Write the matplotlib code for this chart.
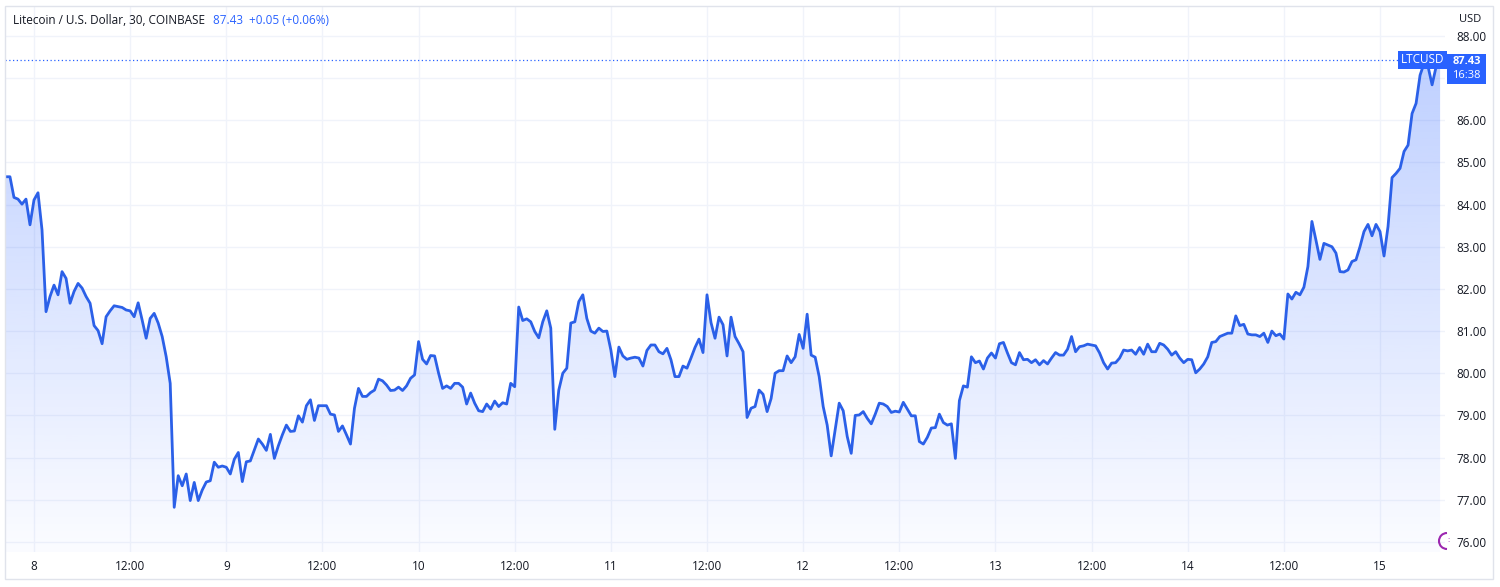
import numpy as np
import matplotlib
matplotlib.use('Agg')
import matplotlib.pyplot as plt
from matplotlib.patches import Rectangle, Arc
from matplotlib.colors import to_rgb
from matplotlib.transforms import blended_transform_factory

plt.rcParams['font.family'] = ['Open Sans', 'DejaVu Sans']

# chart data (30 minute closes, LTC/USD on Coinbase)
title = 'Litecoin / U.S. Dollar, 30, COINBASE'
quote = '87.43  +0.05 (+0.06%)'
symbol = 'LTCUSD'
last_price = 87.43
countdown = '16:38'
start_bar = -7  # first bar, in half hours from midnight of the 8th

prices = [
    # 8th (from 20:30 the day before)
    84.66, 84.66, 84.17, 84.13, 84.01, 84.13, 83.52, 84.11, 84.28, 83.40,
    81.46, 81.82, 82.09, 81.86, 82.41, 82.25, 81.66, 81.94, 82.13, 82.02,
    81.82, 81.66, 81.13, 81.01, 80.70, 81.34, 81.48, 81.60, 81.58, 81.56,
    81.50, 81.48, 81.34, 81.67, 81.26, 80.83, 81.30, 81.42, 81.19, 80.87,
    80.39, 79.76, 76.82, 77.57, 77.33, 77.61, 76.98, 77.41, 76.98, 77.23,
    77.42, 77.45, 77.89, 77.77, 77.80,
    # 9th
    77.77, 77.61, 77.96, 78.12, 77.43, 77.90, 77.92, 78.18, 78.44, 78.32,
    78.17, 78.55, 77.98, 78.28, 78.54, 78.77, 78.62, 78.63, 78.99, 78.84,
    79.23, 79.37, 78.88, 79.23, 79.23, 79.23, 79.03, 79.01, 78.62, 78.75,
    78.54, 78.32, 79.17, 79.64, 79.45, 79.45, 79.54, 79.60, 79.86, 79.82,
    79.72, 79.59, 79.60, 79.67, 79.59, 79.70, 79.88, 79.96,
    # 10th
    80.75, 80.33, 80.22, 80.42, 80.41, 80.00, 79.64, 79.70, 79.64, 79.76,
    79.76, 79.67, 79.27, 79.53, 79.29, 79.11, 79.09, 79.27, 79.15, 79.34,
    79.21, 79.30, 79.27, 79.76, 79.68, 81.57, 81.25, 81.29, 81.22, 80.99,
    80.84, 81.22, 81.48, 81.07, 78.67, 79.60, 80.00, 80.12, 81.19, 81.22,
    81.70, 81.86, 81.30, 81.00, 80.95, 81.07, 80.99, 81.00,
    # 11th
    80.55, 79.92, 80.62, 80.41, 80.33, 80.36, 80.38, 80.36, 80.17, 80.54,
    80.67, 80.67, 80.51, 80.46, 80.59, 80.32, 79.92, 79.92, 80.17, 80.12,
    80.36, 80.61, 80.81, 80.49, 81.86, 81.20, 80.83, 81.33, 81.15, 80.41,
    81.33, 80.87, 80.70, 80.51, 78.95, 79.17, 79.21, 79.60, 79.50, 79.09,
    79.40, 80.00, 80.06, 80.06, 80.41, 80.25, 80.39, 80.92,
    # 12th
    80.59, 81.40, 80.43, 80.38, 79.92, 79.21, 78.77, 78.04, 78.66, 79.29,
    79.11, 78.50, 78.10, 79.00, 79.01, 79.09, 78.93, 78.80, 79.03, 79.29,
    79.27, 79.21, 79.07, 79.10, 79.08, 79.31, 79.15, 78.99, 78.99, 78.38,
    78.32, 78.48, 78.70, 78.71, 79.03, 78.83, 78.77, 78.80, 77.98, 79.35,
    79.70, 79.67, 80.39, 80.25, 80.29, 80.10, 80.36, 80.48,
    # 13th
    80.36, 80.70, 80.73, 80.48, 80.25, 80.20, 80.49, 80.32, 80.33, 80.25,
    80.32, 80.20, 80.30, 80.22, 80.36, 80.49, 80.43, 80.43, 80.57, 80.87,
    80.51, 80.63, 80.65, 80.69, 80.67, 80.65, 80.48, 80.25, 80.10, 80.24,
    80.25, 80.36, 80.55, 80.53, 80.55, 80.45, 80.61, 80.45, 80.69, 80.51,
    80.51, 80.71, 80.67, 80.57, 80.43, 80.51, 80.36, 80.25,
    # 14th
    80.33, 80.32, 80.01, 80.10, 80.22, 80.39, 80.73, 80.75, 80.87, 80.91,
    80.95, 80.95, 81.36, 81.13, 81.16, 80.93, 80.91, 80.91, 80.87, 80.95,
    80.73, 81.00, 80.89, 80.93, 80.81, 81.88, 81.76, 81.92, 81.86, 82.04,
    82.53, 83.60, 83.16, 82.70, 83.08, 83.04, 83.00, 82.85, 82.41, 82.40,
    82.45, 82.65, 82.69, 83.00, 83.36, 83.53, 83.26, 83.53,
    # 15th
    83.36, 82.78, 83.48, 84.64, 84.74, 84.86, 85.26, 85.41, 86.16, 86.40,
    87.07, 87.35, 87.27, 86.84, 87.27, 87.43,
]

tick_bars = [0, 24, 48, 72, 96, 120, 144, 168, 192, 216, 240, 264, 288, 312, 336]
tick_labels = ['8', '12:00', '9', '12:00', '10', '12:00', '11', '12:00',
               '12', '12:00', '13', '12:00', '14', '12:00', '15']
price_ticks = [76, 77, 78, 79, 80, 81, 82, 83, 84, 85, 86, 87, 88]

line_color = '#2b60e8'
tag_color = '#2962ff'
text_color = '#131722'
grid_color = '#f0f3fa'

W, H = 1500, 587
fig = plt.figure(figsize=(W / 100, H / 100), dpi=100)
fig.patch.set_facecolor('white')

def fx(px):
    return px / W

def fy(py):
    return 1 - py / H

ax = fig.add_axes([fx(5), fy(552), fx(1440), (552 - 6) / H])
bars = np.arange(len(prices)) + start_bar
xmin, xmax = (5 - 34) / 4.006, (1445 - 34) / 4.006
ymin, ymax = 75.76, 88.71
ax.set_xlim(xmin, xmax)
ax.set_ylim(ymin, ymax)

# gradient area under the line
rgb = to_rgb(tag_color)
grad = np.zeros((256, 1, 4))
grad[:, 0, :3] = rgb
grad[:, 0, 3] = np.linspace(0.02, 0.30, 256)
img = ax.imshow(grad, extent=[xmin, xmax, ymin, max(prices)], origin='lower',
                aspect='auto', zorder=1, interpolation='bilinear')
area = ax.fill_between(bars, prices, ymin, facecolor='none', edgecolor='none')
img.set_clip_path(area.get_paths()[0], transform=ax.transData)

ax.plot(bars, prices, color=line_color, lw=2, zorder=3, solid_joinstyle='round')
ax.axhline(last_price, color=tag_color, lw=0.9, ls=(0, (1, 2)), zorder=2)

ax.set_xticks(tick_bars)
ax.set_xticklabels(tick_labels)
ax.set_yticks(price_ticks)
# the label right under the last-price tag is hidden by the tag
ax.set_yticklabels(['' if abs(p - last_price) < 0.5 else f'{p:.2f}' for p in price_ticks])
ax.yaxis.tick_right()
ax.tick_params(axis='both', length=0, labelsize=8.5, labelcolor=text_color)
ax.tick_params(axis='x', pad=6)
ax.tick_params(axis='y', pad=8)
ax.grid(True, color=grid_color, lw=1, zorder=0)
ax.set_axisbelow(True)
for s in ax.spines.values():
    s.set_visible(False)

# symbol tag on the dotted last-price line
tr = blended_transform_factory(ax.transAxes, ax.transData)
ax.text(0.9995, last_price, symbol, transform=tr, ha='right', va='center',
        fontsize=8.5, color='white', zorder=5,
        bbox=dict(boxstyle='square,pad=0.25', fc=tag_color, ec='none'))

# price tag on the scale
fig.patches.append(Rectangle((fx(1447), fy(84)), fx(39), (84 - 54) / H,
                             transform=fig.transFigure, fc=tag_color, ec='none'))
fig.text(fx(1466.5), fy(61), f'{last_price:.2f}', ha='center', va='center',
         fontsize=8, color='white', fontweight='bold')
fig.text(fx(1466.5), fy(76), countdown, ha='center', va='center',
         fontsize=8, color='white')
fig.text(fx(1470), fy(19), 'USD', ha='center', va='center', fontsize=8, color=text_color)

# header
fig.text(fx(13), fy(20), title, ha='left', va='center', fontsize=8.5, color=text_color)
fig.text(fx(213), fy(20), quote, ha='left', va='center', fontsize=8.5, color=tag_color)

# events marker, half hidden behind the price scale
fig.patches.append(Arc((fx(1447), fy(541)), fx(16), 16 / H, theta1=90, theta2=270,
                       transform=fig.transFigure, color='#9c27b0', lw=1.5))
fig.text(fx(1449), fy(541), ':', ha='center', va='center', fontsize=6, color='#9c27b0')

# outer frame
fig.patches.append(Rectangle((fx(5), fy(579)), fx(1488), (579 - 6) / H,
                             transform=fig.transFigure, fill=False,
                             ec='#e0e3eb', lw=1))

fig.savefig('out.png', dpi=100)
